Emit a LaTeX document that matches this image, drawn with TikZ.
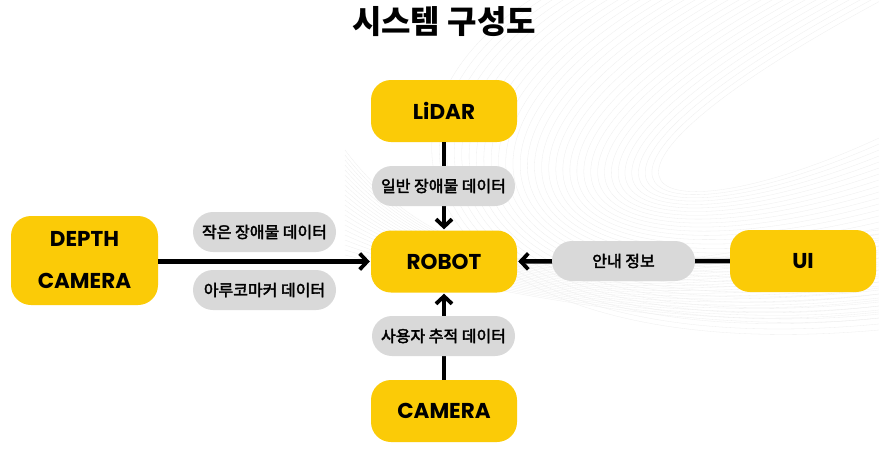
\documentclass[tikz,border=0pt]{standalone}
\usepackage{fontspec}
\setmainfont{Poppins}
\newfontfamily\krfont{Noto Sans CJK KR}
\newfontfamily\krlabelfont[FakeBold=2.5]{Noto Sans CJK KR}
\usetikzlibrary{arrows.meta}
\definecolor{boxyellow}{HTML}{FBCB07}
\definecolor{pillgray}{HTML}{D9D9D9}
\definecolor{meshgray}{HTML}{EEEEEE}
\tikzset{
  unit/.style={fill=boxyellow, rounded corners=20pt, minimum width=146pt,
    minimum height=62pt, inner sep=0pt, align=center,
    font=\fontsize{21.5}{42}\selectfont\bfseries},
  pill/.style={fill=pillgray, rounded corners=20pt, minimum width=143pt,
    minimum height=40pt, inner sep=0pt,
    font=\krlabelfont\fontsize{16}{18}\selectfont},
  link/.style={line width=4.5pt, -{Straight Barb[length=7.5pt,width=16pt,line width=3.8pt]},
    shorten >=1pt},
  meshline/.style={draw=meshgray, line width=0.3pt}
}
\begin{document}
\begin{tikzpicture}[x=1pt,y=-1pt]
  \fill[white] (0,0) rectangle (879,453);
  \useasboundingbox (0,0) rectangle (879,453);
  % faint wave mesh in the background
  \begin{scope}
    \clip (0,0) rectangle (879,453);
    \foreach \i in {0,...,32} {
      \pgfmathsetmacro{\sx}{530+11*\i}
      \pgfmathsetmacro{\ax}{330+6*\i}
      \pgfmathsetmacro{\ay}{130+2*\i}
      \pgfmathsetmacro{\bx}{430+7*\i}
      \pgfmathsetmacro{\by}{370-4*\i}
      \pgfmathsetmacro{\ey}{330-6*\i}
      \draw[meshline] (\sx,0) .. controls (\ax,\ay) and (\bx,\by) .. (879,\ey);
    }
    \foreach \i in {0,...,22} {
      \pgfmathsetmacro{\sy}{150+5*\i}
      \pgfmathsetmacro{\ay}{330-2*\i}
      \pgfmathsetmacro{\by}{250+4*\i}
      \pgfmathsetmacro{\ey}{230+4*\i}
      \draw[meshline] (345,\sy) .. controls (480,\ay) and (700,\by) .. (879,\ey);
    }
  \end{scope}

  % title
  \node (title) at (444,22) {\krfont\fontsize{32}{34}\selectfont\bfseries 시스템 구성도};

  % system units
  \node[unit] (lidar)  at (444,111) {LiDAR};
  \node[unit] (robot)  at (444,261.5) {ROBOT};
  \node[unit] (camera) at (444,411) {CAMERA};
  \node[unit] (ui)     at (803,261) {UI};
  \node[unit, minimum width=147pt, minimum height=89pt] (depth) at (84.5,260.5)
    {DEPTH\\CAMERA};

  % data flows into the robot
  \draw[link] (lidar) -- (robot);
  \draw[link] (camera) -- (robot);
  \draw[link] (ui) -- (robot);
  \draw[link] (depth.east |- robot) -- (robot);

  % data labels
  \node[pill] (lidardata)  at (443.5,186) {일반 장애물 데이터};
  \node[pill] (smalldata)  at (264.5,232) {작은 장애물 데이터};
  \node[pill] (arucodata)  at (264.5,290) {아루코마커 데이터};
  \node[pill] (guidedata)  at (623.5,261) {안내 정보};
  \node[pill] (trackdata)  at (443.5,336) {사용자 추적 데이터};
\end{tikzpicture}
\end{document}
